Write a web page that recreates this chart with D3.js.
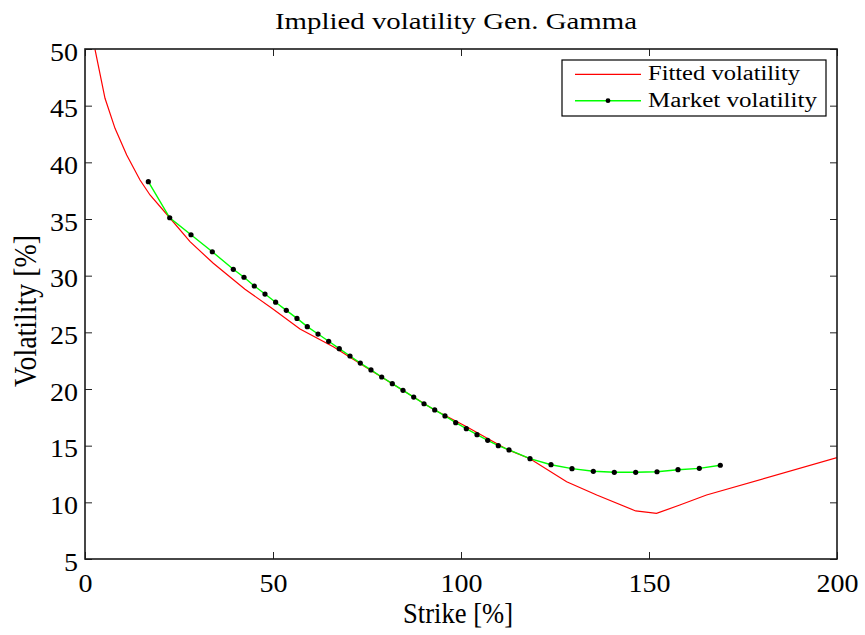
<!DOCTYPE html>
<html>
<head>
<meta charset="utf-8">
<script src="https://cdn.jsdelivr.net/npm/d3@7"></script>
<style>
  body { margin: 0; background: #fff; }
</style>
</head>
<body>
<svg id="chart" width="865" height="635"></svg>
<script>
const FONT = "'Liberation Serif', 'DejaVu Serif', serif";

// fitted volatility (red line)
const fittedStrike = [2.66, 5.32, 7.98, 11.09, 14.63, 17.29, 22.53, 27.93, 34.12, 42.55, 49.8, 57.18,
  66.04, 74.92, 81.73, 92.63, 101.5, 112.2, 118.35, 128.1, 136.1, 146.46, 152.0, 158.2, 165.3, 200];
const fittedVol = [49.97, 45.65, 43.0, 40.65, 38.44, 37.12, 35.11, 33.0, 31.09, 28.8, 27.1, 25.29,
  23.73, 21.88, 20.47, 18.21, 16.67, 14.68, 13.85, 11.82, 10.65, 9.24, 9.03, 9.76, 10.65, 13.94];

// market volatility (green line with dots)
const marketStrike = [16.84, 22.53, 28.19, 33.86, 39.44, 42.29, 45.03, 47.87, 50.7, 53.54, 56.38,
  59.12, 61.97, 64.81, 67.63, 70.48, 73.22, 76.06, 78.91, 81.73, 84.57, 87.42, 90.16, 93.01, 95.74,
  98.59, 101.41, 104.26, 107.1, 109.92, 112.77, 118.35, 123.94, 129.52, 135.19, 140.77, 146.46,
  152.13, 157.71, 163.38, 168.96];
const marketVol = [38.29, 35.11, 33.61, 32.11, 30.56, 29.86, 29.09, 28.38, 27.66, 26.94, 26.23,
  25.5, 24.85, 24.21, 23.56, 22.91, 22.29, 21.68, 21.06, 20.47, 19.88, 19.29, 18.7, 18.15, 17.62,
  17.03, 16.5, 15.97, 15.47, 15.0, 14.62, 13.85, 13.32, 12.97, 12.74, 12.65, 12.65, 12.7, 12.88,
  13.0, 13.27];

const xTicks = [0, 50, 100, 150, 200];
const yTicks = [5, 10, 15, 20, 25, 30, 35, 40, 45, 50];
const legendLabels = ["Fitted volatility", "Market volatility"];

const svg = d3.select("#chart");
const margin = { top: 49, right: 28, bottom: 76, left: 85 };
const width = 865 - margin.left - margin.right;
const height = 635 - margin.top - margin.bottom;

const g = svg.append("g").attr("transform", `translate(${margin.left},${margin.top})`);

const x = d3.scaleLinear().domain([0, 200]).range([0, width]);
const y = d3.scaleLinear().domain([5, 50]).range([height, 0]);

// clip lines to the axes box
g.append("clipPath").attr("id", "clip")
  .append("rect").attr("width", width).attr("height", height);

const fitted = fittedStrike.map((s, i) => [s, fittedVol[i]]);
const market = marketStrike.map((s, i) => [s, marketVol[i]]);
const line = d3.line().x((d) => x(d[0])).y((d) => y(d[1]));

g.append("path").datum(fitted)
  .attr("clip-path", "url(#clip)")
  .attr("d", line).attr("fill", "none")
  .attr("stroke", "#ff0000").attr("stroke-width", 1.2);

g.append("path").datum(market)
  .attr("d", line).attr("fill", "none")
  .attr("stroke", "#00ff00").attr("stroke-width", 1.4);

g.selectAll("circle.mk").data(market).join("circle")
  .attr("class", "mk")
  .attr("cx", (d) => x(d[0])).attr("cy", (d) => y(d[1]))
  .attr("r", 2.6).attr("fill", "#000");

// axes: ticks inward, on all four sides
const tickLen = 7;
const styleAxis = (sel) => {
  sel.attr("font-family", null).attr("font-size", null);
  sel.select(".domain").remove();
  sel.selectAll("line").attr("stroke", "#222").attr("stroke-width", 1);
  sel.selectAll("text").style("font-family", FONT).style("font-size", "26px").attr("fill", "#000")
    .attr("lengthAdjust", "spacingAndGlyphs")
    .attr("textLength", function () { return this.textContent.length * 14; });
};

g.append("g").attr("transform", `translate(0,${height})`)
  .call(d3.axisBottom(x).tickValues(xTicks).tickSizeInner(-tickLen).tickSizeOuter(0))
  .call(styleAxis)
  .call((s) => s.selectAll("text").attr("y", 33).attr("dy", null));

g.append("g")
  .call(d3.axisTop(x).tickValues(xTicks).tickSizeInner(-tickLen).tickSizeOuter(0))
  .call(styleAxis)
  .call((s) => s.selectAll("text").remove());

g.append("g")
  .call(d3.axisLeft(y).tickValues(yTicks).tickSizeInner(-tickLen).tickSizeOuter(0))
  .call(styleAxis)
  .call((s) => s.selectAll("text").attr("x", -7).attr("dy", 11));

g.append("g").attr("transform", `translate(${width},0)`)
  .call(d3.axisRight(y).tickValues(yTicks).tickSizeInner(-tickLen).tickSizeOuter(0))
  .call(styleAxis)
  .call((s) => s.selectAll("text").remove());

// box
g.append("rect").attr("width", width).attr("height", height)
  .attr("fill", "none").attr("stroke", "#1a1a1a").attr("stroke-width", 1.6);

// titles
const label = (txt, size, len) => svg.append("text")
  .attr("text-anchor", "middle").style("font-family", FONT).style("font-size", size + "px")
  .attr("lengthAdjust", "spacingAndGlyphs").attr("textLength", len)
  .text(txt);

label("Implied volatility Gen. Gamma", 23, 362).attr("x", 456).attr("y", 29);
label("Strike [%]", 30, 110).attr("x", 458).attr("y", 623);
label("Volatility [%]", 31, 152).attr("transform", "translate(36,311) rotate(-90)");

// legend
const lg = svg.append("g").attr("transform", "translate(562,60)");
lg.append("rect").attr("width", 264).attr("height", 56)
  .attr("fill", "#fff").attr("stroke", "#000").attr("stroke-width", 1.2);
lg.append("line").attr("x1", 13).attr("x2", 79).attr("y1", 14.3).attr("y2", 14.3)
  .attr("stroke", "#ff0000").attr("stroke-width", 1.2);
lg.append("line").attr("x1", 13).attr("x2", 79).attr("y1", 40.7).attr("y2", 40.7)
  .attr("stroke", "#00ff00").attr("stroke-width", 1.4);
lg.append("circle").attr("cx", 46).attr("cy", 40.7).attr("r", 2.4).attr("fill", "#000");
lg.selectAll("text.lab").data(legendLabels).join("text")
  .attr("class", "lab")
  .attr("x", 86).attr("y", (d, i) => 20 + i * 26.7)
  .style("font-family", FONT).style("font-size", "20px")
  .attr("lengthAdjust", "spacingAndGlyphs")
  .attr("textLength", (d, i) => [152, 169][i])
  .text((d) => d);
</script>
</body>
</html>
